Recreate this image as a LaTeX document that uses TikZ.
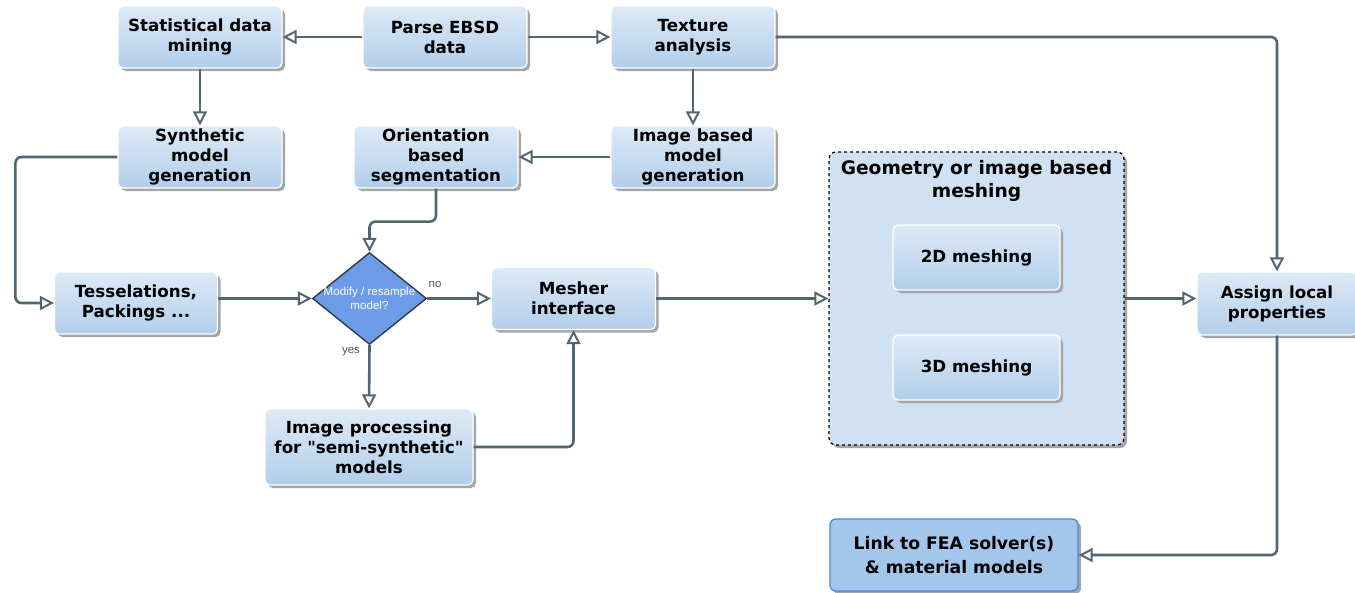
\documentclass[tikz,border=0pt]{standalone}
\usepackage{fontspec}
\setmainfont{DejaVu Sans}[Ligatures=TeXOff]
\newfontfamily\arialfont{Liberation Sans}
\usetikzlibrary{arrows.meta,shapes.geometric,shadows,calc}

\definecolor{lineC}{HTML}{53656F}
\definecolor{boxTop}{HTML}{DDEAF7}
\definecolor{boxBot}{HTML}{B2CEEA}
\definecolor{shadowC}{HTML}{A6A6A6}
\definecolor{groupFill}{HTML}{CFE1F2}
\definecolor{diaFill}{HTML}{6C9CE8}
\definecolor{diaLine}{HTML}{2E3B45}
\definecolor{linkFill}{HTML}{A4C6EB}
\definecolor{linkLine}{HTML}{4A86D6}
\definecolor{lblC}{HTML}{555555}

\begin{document}
\begin{tikzpicture}[x=1pt,y=-1pt,
  box/.style={rounded corners=5pt, draw=white, line width=1.2pt,
    top color=boxTop, bottom color=boxBot,
    drop shadow={shadow xshift=3pt,shadow yshift=-3pt,fill=shadowC,opacity=1},
    font=\bfseries\fontsize{16.7}{20}\selectfont, align=center, inner sep=0pt,
    minimum width=164pt, minimum height=62pt},
  conn/.style={draw=lineC, line width=2.6pt, rounded corners=6pt,
    -{Triangle[open, length=14pt, width=14pt, line width=2pt]}},
  lbl/.style={font=\arialfont\fontsize{11.5}{13}\selectfont, text=lblC, inner sep=0pt},
]
\useasboundingbox (0,0) rectangle (1355,592);

% top row
\node[box] (stat)    at (200,37) {Statistical data\\mining};
\node[box] (parse)   at (445,37) {Parse EBSD\\data};
\node[box] (texture) at (693,37) {Texture\\analysis};

% second row
\node[box] (synth)    at (200,157) {Synthetic\\model\\generation};
\node[box] (orient)   at (436,157) {Orientation\\based\\segmentation};
\node[box] (imgmodel) at (693,157) {Image based\\model\\generation};

% model preparation
\node[box, minimum width=163pt] (tess) at (136,303) {Tesselations,\\Packings ...};
\node[diamond, draw=diaLine, line width=1.4pt, fill=diaFill, inner sep=0pt,
      minimum width=114pt, minimum height=92pt] (dia) at (369.5,298.5) {};
\node[font=\arialfont\fontsize{11.6}{13.5}\selectfont, text=white, align=center, inner sep=0pt]
      (diatext) at (dia.center) {Modify / resample\\model?};
\node[lbl] (no)  at (435,284) {no};
\node[lbl] (yes) at (351,352) {yes};
\node[box] (mesher) at (573.5,298.5) {Mesher\\interface};
\node[box, minimum width=208pt, minimum height=76pt] (improc) at (369,447)
      {Image processing\\for "semi-synthetic"\\models};

% meshing group
\node[rounded corners=7pt, draw=black, dashed, line width=1.3pt, fill=groupFill,
      drop shadow={shadow xshift=3pt,shadow yshift=-3pt,fill=shadowC,opacity=1},
      minimum width=295pt, minimum height=293pt, inner sep=0pt] (grp) at (976.5,298.5) {};
\node[font=\bfseries\fontsize{18.6}{23}\selectfont, align=center, inner sep=0pt]
      (grptitle) at (976.5,181) {Geometry or image based\\meshing};
\node[box, minimum width=167pt, minimum height=65pt] (m2d) at (976.5,257.5) {2D meshing};
\node[box, minimum width=167pt, minimum height=65pt] (m3d) at (976.5,367.5) {3D meshing};

% output side
\node[box, minimum width=160pt, minimum height=63pt] (assign) at (1277,303.5) {Assign local\\properties};
\node[rounded corners=6pt, draw=linkLine, line width=1.3pt, fill=linkFill,
      drop shadow={shadow xshift=3pt,shadow yshift=-3pt,fill=shadowC,opacity=1},
      font=\bfseries\fontsize{17.2}{24}\selectfont, align=center, inner sep=0pt,
      minimum width=248pt, minimum height=72pt] (link) at (954,555) {Link to FEA solver(s)\\\& material models};

% connectors
\draw[conn] (parse.west) -- (stat.east);
\draw[conn] (parse.east) -- (texture.west);
\draw[conn] (texture.east) -| (assign.north);
\draw[conn] (stat.south) -- (synth.north);
\draw[conn] (texture.south) -- (imgmodel.north);
\draw[conn] (imgmodel.west) -- (orient.east);
\draw[conn] (synth.west) -- ++(-102,0) |- (tess.west);
\draw[conn] (orient.south) -- ++(0,33) -| (dia.north);
\draw[conn] (tess.east |- dia.west) -- (dia.west);
\draw[conn] (dia.east) -- (mesher.west);
\draw[conn] (dia.south) -- (improc.north);
\draw[conn] (improc.east) -| (mesher.south);
\draw[conn] (mesher.east) -- (grp.west);
\draw[conn] (grp.east) -- (grp.east -| assign.west);
\draw[conn] (assign.south) |- (link.east);
\end{tikzpicture}
\end{document}
